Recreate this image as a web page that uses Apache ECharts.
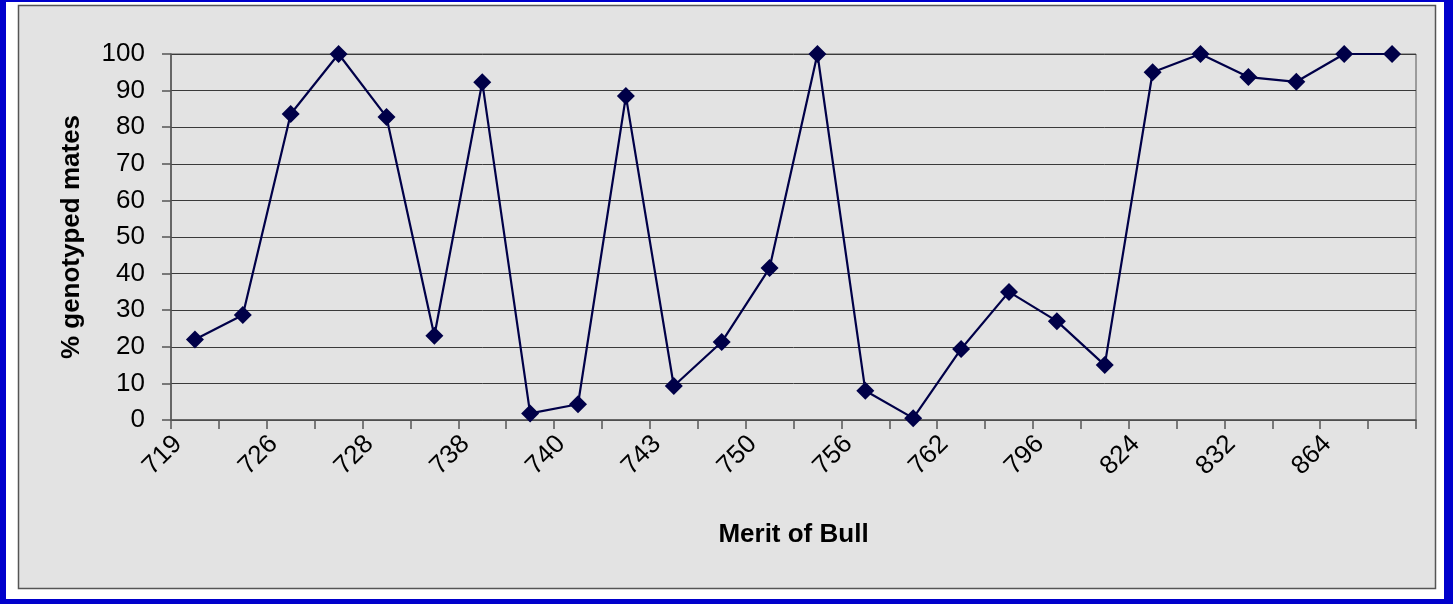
<!DOCTYPE html>
<html>
<head>
<meta charset="utf-8">
<script src="https://cdn.jsdelivr.net/npm/echarts@6/dist/echarts.min.js"></script>
<style>
html,body{margin:0;padding:0;background:#fff;}
#chart{width:1453px;height:604px;}
</style>
</head>
<body>
<div id="chart"></div>
<script>
// Visible tick labels (every other category is labelled)
const tickLabels = ['719','726','728','738','740','743','750','756','762','796','824','832','864'];
// 26 categories; unlabelled ones in between are left blank
const categories = [];
for (let i = 0; i < tickLabels.length; i++) { categories.push(tickLabels[i]); categories.push(''); }
// % genotyped mates
const pctGenotyped = [22, 28.7, 83.6, 100, 82.8, 23, 92.3, 1.8, 4.3, 88.5, 9.3, 21.3, 41.5,
                      100, 8, 0.5, 19.4, 35, 27, 15, 95, 100, 93.7, 92.4, 100, 100];
const yTicks = {min: 0, max: 100, interval: 10};

const chart = echarts.init(document.getElementById('chart'), null, {renderer: 'canvas'});
const font = 'Arial, "Liberation Sans", sans-serif';
chart.setOption({
  animation: false,
  backgroundColor: '#ffffff',
  graphic: [
    {type: 'rect', z: -10, shape: {x: 0, y: 0, width: 1453, height: 604}, style: {fill: '#0000cc'}},
    {type: 'rect', z: -9, shape: {x: 6, y: 2, width: 1438, height: 597}, style: {fill: '#ffffff'}},
    {type: 'rect', z: -8, shape: {x: 18.5, y: 5.5, width: 1417, height: 583}, style: {fill: '#e3e3e3', stroke: '#555555', lineWidth: 1.5}}
  ],
  grid: {left: 171, right: 37, top: 54, bottom: 184, show: true, borderColor: '#555555', borderWidth: 1, backgroundColor: 'transparent'},
  xAxis: {
    type: 'category',
    data: categories,
    boundaryGap: true,
    name: 'Merit of Bull',
    nameLocation: 'middle',
    nameGap: 102,
    nameTextStyle: {fontFamily: font, fontSize: 26, fontWeight: 'bold', color: '#000'},
    axisLine: {lineStyle: {color: '#555555', width: 1.5}},
    axisTick: {show: true, interval: 0, length: 9, lineStyle: {color: '#555555', width: 1.5}},
    axisLabel: {interval: 1, rotate: 45, margin: 3, padding: [0, 24, 0, 0], fontFamily: font, fontSize: 26, color: '#000'},
    splitLine: {show: false}
  },
  yAxis: {
    type: 'value',
    min: yTicks.min, max: yTicks.max, interval: yTicks.interval,
    name: '% genotyped mates',
    nameLocation: 'middle',
    nameGap: 86,
    nameTextStyle: {fontFamily: font, fontSize: 26, fontWeight: 'bold', color: '#000'},
    axisLine: {show: true, lineStyle: {color: '#555555', width: 1.5}},
    axisTick: {show: true, length: 9, lineStyle: {color: '#555555', width: 1.5}},
    axisLabel: {margin: 26, fontFamily: font, fontSize: 26, color: '#000'},
    splitLine: {show: true, lineStyle: {color: '#3a3a3a', width: 1}}
  },
  series: [{
    type: 'line',
    data: pctGenotyped,
    symbol: 'diamond',
    symbolSize: 18,
    lineStyle: {color: '#000048', width: 2.2},
    itemStyle: {color: '#000048'},
    z: 5
  }]
});
</script>
</body>
</html>
